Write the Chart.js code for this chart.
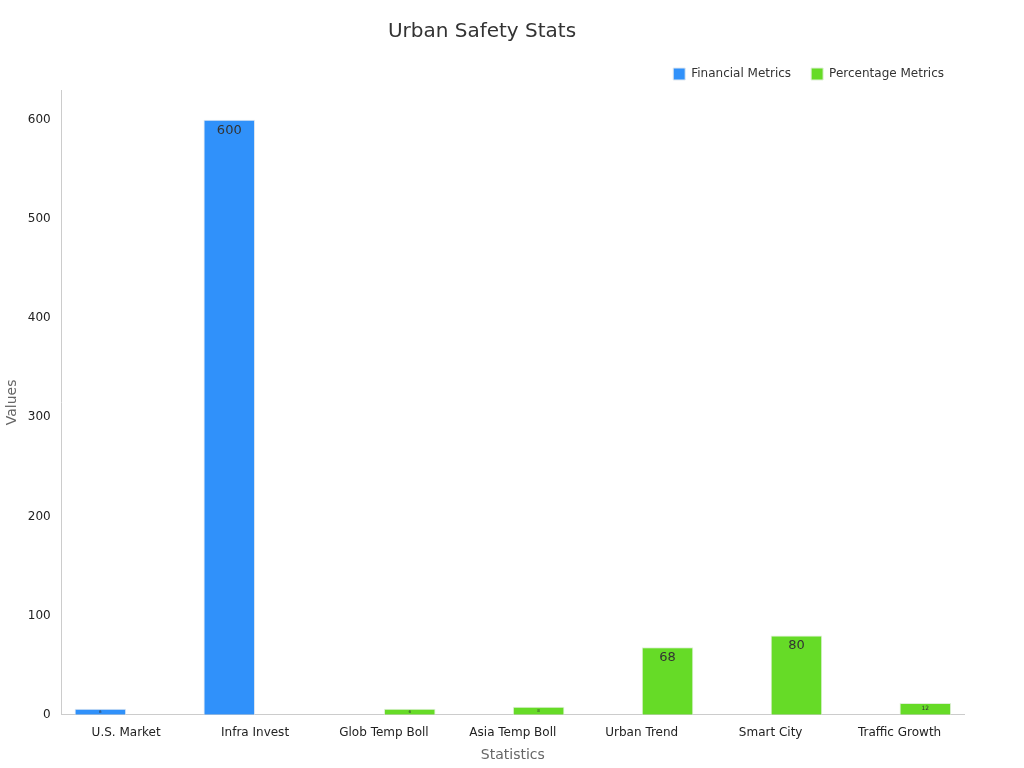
<!DOCTYPE html>
<html><head><meta charset="utf-8">
<script src="https://cdn.jsdelivr.net/npm/chart.js@4"></script>
<style>html,body{margin:0;background:#fff}#w{width:1024px;height:768px}</style>
</head><body><div id="w"><canvas id="c"></canvas></div>
<script>
const categories=["U.S. Market","Infra Invest","Glob Temp Boll","Asia Temp Boll","Urban Trend","Smart City","Traffic Growth"];
const financial=[6,600,null,null,null,null,null];
const percentage=[null,null,6,8,68,80,12];
const labelPlugin={id:'lbl',afterDatasetsDraw(ch){const ctx=ch.ctx;ch.data.datasets.forEach((ds,i)=>{ch.getDatasetMeta(i).data.forEach((b,j)=>{const v=ds.data[j];if(v==null)return;const h=b.base-b.y;const fs=h<20?Math.max(4,h*0.5):13;ctx.save();ctx.fillStyle='#333';ctx.font=fs+'px "DejaVu Sans"';ctx.textAlign='center';ctx.textBaseline=h<20?'middle':'top';ctx.fillText(String(v),b.x,h<20?(b.y+b.base)/2:b.y+4);ctx.restore();});});}};
new Chart(document.getElementById('c'),{type:'bar',data:{labels:categories,datasets:[
{label:'Financial Metrics',data:financial,backgroundColor:'#3091fa',borderColor:'#e0e8f0',borderWidth:1},
{label:'Percentage Metrics',data:percentage,backgroundColor:'#66db27',borderColor:'#e0f0d8',borderWidth:1}]},
options:{responsive:true,maintainAspectRatio:false,animation:false,
layout:{padding:{left:0,right:60,top:10,bottom:0}},
datasets:{bar:{categoryPercentage:0.8,barPercentage:1}},
plugins:{title:{display:true,text:'Urban Safety Stats',color:'#333',font:{family:'DejaVu Sans',size:20,weight:'normal'},padding:{top:10,bottom:4}},
legend:{align:'end',labels:{boxWidth:12,boxHeight:12,padding:20,color:'#333',font:{family:'DejaVu Sans',size:12}}},tooltip:{enabled:false}},
scales:{x:{grid:{display:false},border:{color:'#ccc'},ticks:{color:'#222',font:{family:'DejaVu Sans',size:12}},title:{display:true,text:'Statistics',color:'#666',font:{family:'DejaVu Sans',size:14}}},
y:{min:0,max:630,grid:{display:false},border:{color:'#ccc'},ticks:{stepSize:100,color:'#222',font:{family:'DejaVu Sans',size:12},callback:v=>v%100===0?v:null},title:{display:true,text:'Values',color:'#666',font:{family:'DejaVu Sans',size:14}}}}},
plugins:[labelPlugin]});
</script></body></html>
